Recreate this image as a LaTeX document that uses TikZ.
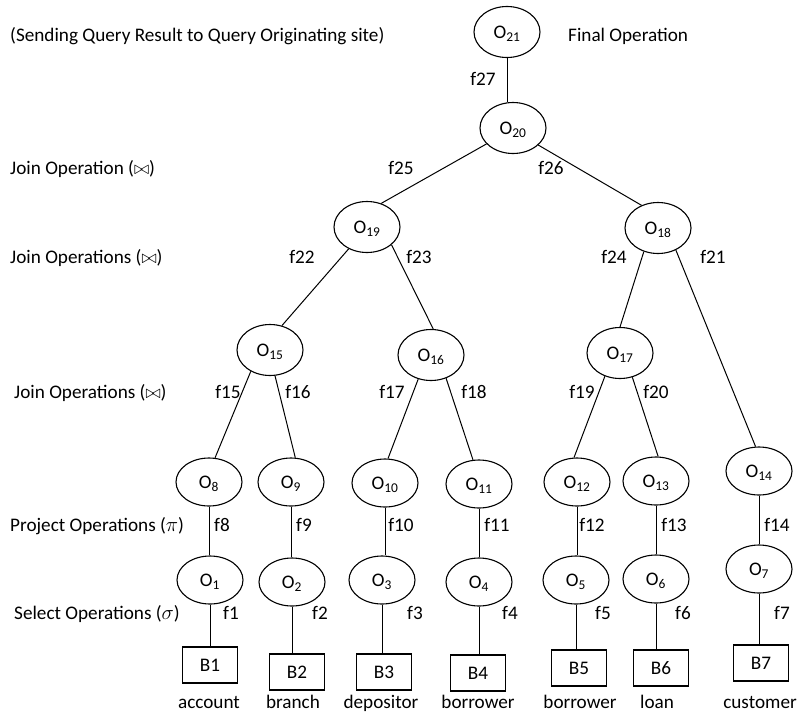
\documentclass[tikz,border=0pt]{standalone}
\usepackage{fontspec}
\setmainfont{Carlito}
\usetikzlibrary{shapes.geometric}
\begin{document}
\begin{tikzpicture}[x=1pt,y=-1pt,
  every node/.style={font=\fontsize{19.2}{23}\selectfont, inner sep=0pt,
    text height=12.3pt, text depth=0pt},
  opnode/.style={ellipse, draw, line width=1.1pt, minimum width=66pt, minimum height=51pt},
  lowop/.style={opnode, minimum height=48pt},
  relbox/.style={rectangle, draw, line width=1.1pt, minimum width=55pt, minimum height=36pt},
  sidelbl/.style={anchor=west},
  link/.style={line width=1pt}]
\useasboundingbox (0,0) rectangle (802,715);

% operation nodes
\node[opnode] (o21) at (507,32) {O\textsubscript{21}};
\node[opnode] (o20) at (513,128) {O\textsubscript{20}};
\node[opnode] (o19) at (367,227) {O\textsubscript{19}};
\node[opnode] (o18) at (658,228) {O\textsubscript{18}};
\node[opnode] (o15) at (270,350) {O\textsubscript{15}};
\node[opnode] (o16) at (431,355) {O\textsubscript{16}};
\node[opnode] (o17) at (620,353) {O\textsubscript{17}};
\node[lowop] (o8)  at (209,482) {O\textsubscript{8}};
\node[lowop] (o9)  at (291,482) {O\textsubscript{9}};
\node[lowop] (o10) at (385,483) {O\textsubscript{10}};
\node[lowop] (o11) at (479,484) {O\textsubscript{11}};
\node[lowop] (o12) at (577,482) {O\textsubscript{12}};
\node[lowop] (o13) at (656,481) {O\textsubscript{13}};
\node[lowop] (o14) at (759,471) {O\textsubscript{14}};
\node[lowop] (o1)  at (210,580) {O\textsubscript{1}};
\node[lowop] (o2)  at (292,582) {O\textsubscript{2}};
\node[lowop] (o3)  at (382,580) {O\textsubscript{3}};
\node[lowop] (o4)  at (479,582) {O\textsubscript{4}};
\node[lowop] (o5)  at (576,580) {O\textsubscript{5}};
\node[lowop] (o6)  at (656,579) {O\textsubscript{6}};
\node[lowop] (o7)  at (759,569) {O\textsubscript{7}};

% base relations
\node[relbox] (b1) at (210,665) {B1};
\node[relbox] (b2) at (297,672) {B2};
\node[relbox] (b3) at (384,672) {B3};
\node[relbox] (b4) at (478,673) {B4};
\node[relbox] (b5) at (579,668) {B5};
\node[relbox] (b6) at (661,668) {B6};
\node[relbox] (b7) at (761,663) {B7};

\node (n1) at (209,702) {account};
\node (n2) at (293,702) {branch};
\node (n3) at (381,702) {depositor};
\node (n4) at (478,702) {borrower};
\node (n5) at (580,702) {borrower};
\node (n6) at (657,702) {loan};
\node (n7) at (760,702) {customer};

% tree edges
\draw[link] (o21.south) -- (o21.south |- o20.north);
\draw[link] (o20.211) -- (o19.59);
\draw[link] (o20.326) -- (o18.126);
\draw[link] (o19.230) -- (o15.64);
\draw[link] (o19.324) -- (o16.85);
\draw[link] (o18.239) -- (o17.90);
\draw[link] (o18.309) -- (o14.98);
\draw[link] (o15.228) -- (o8.76);
\draw[link] (o15.281) -- (o9.80);
\draw[link] (o16.242) -- (o10.83);
\draw[link] (o16.303) -- (o11.104);
\draw[link] (o17.237) -- (o12.97);
\draw[link] (o17.297) -- (o13.85);

\foreach \u/\l in {o8/o1, o9/o2, o10/o3, o11/o4, o12/o5, o13/o6, o14/o7}
  \draw[link] (\u.south) -- (\u.south |- \l.north);
\foreach \u/\l in {o1/b1, o2/b2, o3/b3, o4/b4, o5/b5, o6/b6, o7/b7}
  \draw[link] (\u.south) -- (\u.south |- \l.north);

% edge labels
\node (f27) at (483,79) {f27};
\node (f25) at (401,168) {f25};
\node (f26) at (551,168) {f26};
\node (f22) at (302,257) {f22};
\node (f23) at (419,257) {f23};
\node (f24) at (614,257) {f24};
\node (f21) at (713,257) {f21};
\node (f15) at (228,392) {f15};
\node (f16) at (298,392) {f16};
\node (f17) at (392,392) {f17};
\node (f18) at (474,392) {f18};
\node (f19) at (582,392) {f19};
\node (f20) at (656,392) {f20};
\node (f8)  at (222,525) {f8};
\node (f9)  at (304,525) {f9};
\node (f10) at (401,525) {f10};
\node (f11) at (497,525) {f11};
\node (f12) at (592,525) {f12};
\node (f13) at (674,525) {f13};
\node (f14) at (777,525) {f14};
\node (f1)  at (231,613) {f1};
\node (f2)  at (320,613) {f2};
\node (f3)  at (415,613) {f3};
\node (f4)  at (510,613) {f4};
\node (f5)  at (603,613) {f5};
\node (f6)  at (683,613) {f6};
\node (f7)  at (782,613) {f7};

% level descriptions
\node[sidelbl] (t0) at (10,35) {(Sending Query Result to Query Originating site)};
\node[sidelbl] (tf) at (568,35) {Final Operation};
\node[sidelbl] (t1) at (10,168) {Join Operation (\scalebox{0.9}{$\bowtie$})};
\node[sidelbl] (t2) at (10,257) {Join Operations (\scalebox{0.9}{$\bowtie$})};
\node[sidelbl] (t3) at (14,392) {Join Operations (\scalebox{0.9}{$\bowtie$})};
\node[sidelbl] (t4) at (10,525) {Project Operations ($\pi$)};
\node[sidelbl] (t5) at (14,613) {Select Operations ($\sigma$)};
\end{tikzpicture}
\end{document}
